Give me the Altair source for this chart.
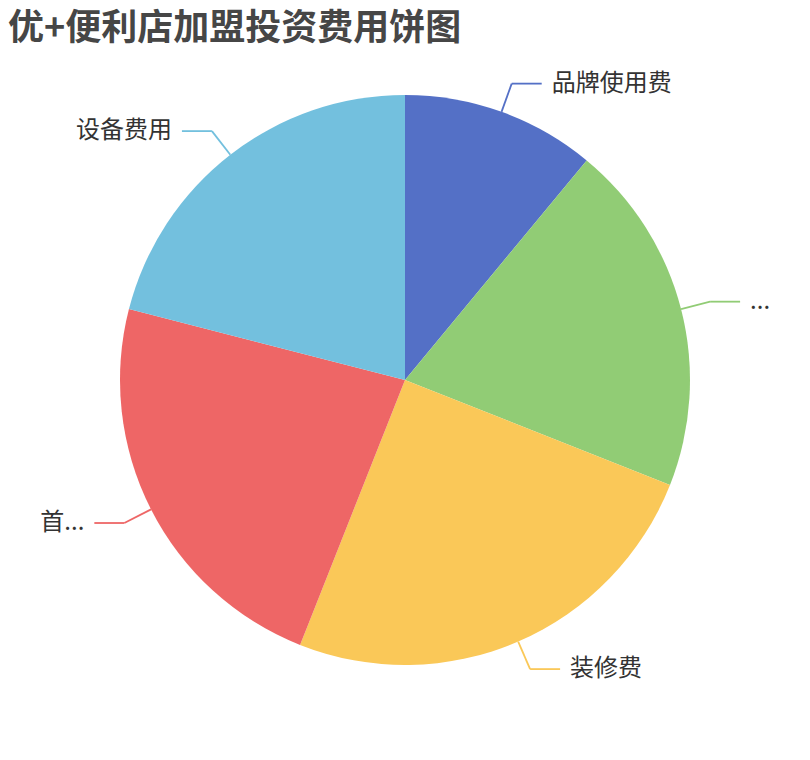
import altair as alt
import pandas as pd

# Data (percent shares, clockwise from 12 o'clock)
labels = ["品牌使用费", "...", "装修费", "首...", "设备费用"]
values = [11, 20, 25, 23, 21]
colors = ["#5470c6", "#91cc75", "#fac858", "#ee6666", "#73c0de"]

df = pd.DataFrame({"label": labels, "value": values, "idx": list(range(len(labels)))})

# layout constants (pixels inside the plot area)
CX, CY, R = 397, 312, 285
L1, L2, GAP = 30, 30, 10
FONT = "Noto Sans CJK SC"

color = alt.Color("label:N", scale=alt.Scale(domain=labels, range=colors), legend=None)

base = alt.Chart(df)

pie = base.mark_arc(outerRadius=R, strokeWidth=0).encode(
    theta=alt.Theta("value:Q", stack=True),
    color=color,
    order=alt.Order("idx:Q"),
    x=alt.value(CX),
    y=alt.value(CY),
)

geo = (
    base.transform_joinaggregate(total="sum(value)")
    .transform_window(cum="sum(value)", sort=[alt.SortField("idx")], frame=[None, 0])
    .transform_calculate(mid="(datum.cum - datum.value / 2) / datum.total * 2 * PI")
    .transform_calculate(s="sin(datum.mid)")
    .transform_calculate(c="cos(datum.mid)")
    .transform_calculate(x1=f"{CX} + {R} * datum.s")
    .transform_calculate(y1=f"{CY} - {R} * datum.c")
    .transform_calculate(x2=f"{CX} + {R + L1} * datum.s")
    .transform_calculate(y2=f"{CY} - {R + L1} * datum.c")
    .transform_calculate(x3=f"datum.x2 + (datum.s >= 0 ? {L2} : -{L2})")
    .transform_calculate(xl=f"datum.x2 + (datum.s >= 0 ? 1 : -1) * {L2 + GAP}")
)

seg1 = geo.mark_rule(strokeWidth=1.8).encode(
    x=alt.X("x1:Q", scale=None, axis=None),
    y=alt.Y("y1:Q", scale=None, axis=None),
    x2="x2:Q",
    y2="y2:Q",
    color=color,
)
seg2 = geo.mark_rule(strokeWidth=1.8).encode(
    x=alt.X("x2:Q", scale=None, axis=None),
    y=alt.Y("y2:Q", scale=None, axis=None),
    x2="x3:Q",
    y2="y2:Q",
    color=color,
)

text_style = dict(baseline="middle", fontSize=24, font=FONT, color="#333333")
lab_r = geo.transform_filter("datum.s >= 0").mark_text(align="left", **text_style).encode(
    x=alt.X("xl:Q", scale=None, axis=None),
    y=alt.Y("y2:Q", scale=None, axis=None),
    text="label:N",
)
lab_l = geo.transform_filter("datum.s < 0").mark_text(align="right", **text_style).encode(
    x=alt.X("xl:Q", scale=None, axis=None),
    y=alt.Y("y2:Q", scale=None, axis=None),
    text="label:N",
)

chart = (
    alt.layer(pie, seg1, seg2, lab_r, lab_l)
    .properties(
        width=794,
        height=680,
        padding={"left": 0, "top": 60, "right": 0, "bottom": 0},
        autosize=alt.AutoSizeParams(type="none"),
        title=alt.TitleParams(
            text="优+便利店加盟投资费用饼图",
            anchor="start",
            frame="group",
            fontSize=36,
            fontWeight="bold",
            font=FONT,
            color="#464646",
            offset=20,
        ),
    )
    .configure_view(stroke=None)
)

chart.save("out.html", embed_options={"renderer": "svg", "actions": False})
